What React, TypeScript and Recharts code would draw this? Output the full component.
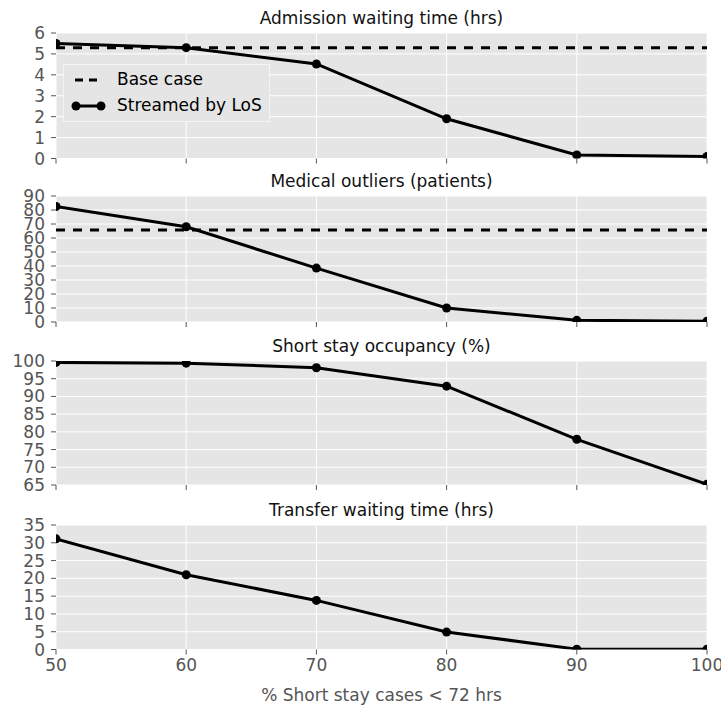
import { LineChart, Line, XAxis, YAxis, CartesianGrid, Legend } from 'recharts';

const xValues = [50, 60, 70, 80, 90, 100];
const xTicks = [50, 60, 70, 80, 90, 100];

const admissionStreamed = [5.5, 5.3, 4.52, 1.9, 0.17, 0.1];
const admissionBase = [5.3, 5.3, 5.3, 5.3, 5.3, 5.3];
const admissionTicks = [0, 1, 2, 3, 4, 5, 6];

const outliersStreamed = [82.5, 68, 38.5, 10, 1.2, 0.5];
const outliersBase = [65.8, 65.8, 65.8, 65.8, 65.8, 65.8];
const outliersTicks = [0, 10, 20, 30, 40, 50, 60, 70, 80, 90];

const occupancyStreamed = [99.6, 99.4, 98.1, 92.9, 77.9, 65.2];
const occupancyTicks = [65, 70, 75, 80, 85, 90, 95, 100];

const transferStreamed = [31.1, 21.0, 13.8, 4.9, 0.1, 0.1];
const transferTicks = [0, 5, 10, 15, 20, 25, 30, 35];

const FONT = '"DejaVu Sans", sans-serif';
const TICK = '#555555';
const TOP_PAD = 30;
const PLOT_LEFT = 56;
const PLOT_RIGHT = 707;
const FS = 17;

type PanelProps = {
  title: string;
  streamed: number[];
  base?: number[];
  yTicks: number[];
  plotTop: number;
  plotHeight: number;
  last?: boolean;
  legend?: boolean;
};

function LegendBox() {
  return (
    <div
      style={{
        width: 207,
        height: 58,
        background: '#e5e5e5',
        border: '1px solid #f4f4f4',
        fontFamily: FONT,
        fontSize: FS,
        color: '#000',
        boxSizing: 'border-box',
        position: 'relative',
      }}
    >
      <svg width={44} height={58} style={{ position: 'absolute', left: 0, top: 0 }}>
        <line x1={11} y1={15} x2={38} y2={15} stroke="#000" strokeWidth={3} strokeDasharray="8 6" />
        <line x1={12} y1={41} x2={37} y2={41} stroke="#000" strokeWidth={3} />
        <circle cx={12} cy={41} r={4.5} fill="#000" />
        <circle cx={37} cy={41} r={4.5} fill="#000" />
      </svg>
      <div style={{ position: 'absolute', left: 53, top: 4, lineHeight: '20px' }}>Base case</div>
      <div style={{ position: 'absolute', left: 53, top: 30, lineHeight: '20px' }}>Streamed by LoS</div>
    </div>
  );
}

function Panel({ title, streamed, base, yTicks, plotTop, plotHeight, last, legend }: PanelProps) {
  const data = xValues.map((x, i) => ({ x, streamed: streamed[i], base: base ? base[i] : undefined }));
  const bottom = last ? 57 : 14;
  const height = TOP_PAD + plotHeight + bottom;
  const domain = [yTicks[0], yTicks[yTicks.length - 1]];
  return (
    <div style={{ position: 'absolute', left: 0, top: plotTop - TOP_PAD, width: 721, height }}>
      <div
        style={{
          position: 'absolute',
          left: PLOT_LEFT,
          width: PLOT_RIGHT - PLOT_LEFT,
          top: TOP_PAD - 25,
          textAlign: 'center',
          fontFamily: FONT,
          fontSize: FS,
          lineHeight: '20px',
          color: '#111',
          zIndex: 2,
        }}
      >
        {title}
      </div>
      <LineChart width={721} height={height} data={data} margin={{ top: TOP_PAD, right: 721 - PLOT_RIGHT, bottom: 0, left: 0 }}>
        <CartesianGrid fill="#e5e5e5" fillOpacity={1} stroke="#ffffff" strokeWidth={1} />
        <XAxis
          dataKey="x"
          type="number"
          domain={[50, 100]}
          ticks={xTicks}
          allowDataOverflow
          interval={0}
          axisLine={false}
          tickLine={{ stroke: TICK }}
          tickSize={5}
          tickMargin={4}
          height={bottom}
          tick={{ fill: TICK, fontSize: FS, fontFamily: FONT }}
          tickFormatter={last ? undefined : () => ''}
          label={
            last
              ? { value: '% Short stay cases < 72 hrs', position: 'insideBottom', offset: 6, fill: TICK, fontSize: FS, fontFamily: FONT }
              : undefined
          }
        />
        <XAxis
          xAxisId="top"
          orientation="top"
          dataKey="x"
          type="number"
          domain={[50, 100]}
          ticks={xTicks}
          interval={0}
          axisLine={false}
          tickLine={{ stroke: TICK }}
          tickSize={5}
          height={0}
          tickFormatter={() => ''}
        />
        <YAxis
          type="number"
          domain={domain}
          ticks={yTicks}
          allowDataOverflow
          interval={0}
          axisLine={false}
          tickLine={{ stroke: TICK }}
          tickSize={5}
          tickMargin={6}
          width={PLOT_LEFT}
          tick={{ fill: TICK, fontSize: FS, fontFamily: FONT }}
        />
        <YAxis
          yAxisId="right"
          orientation="right"
          type="number"
          domain={domain}
          ticks={yTicks}
          interval={0}
          axisLine={false}
          tickLine={{ stroke: TICK }}
          tickSize={5}
          width={0}
          tickFormatter={() => ''}
        />
        {base && (
          <Line
            dataKey="base"
            stroke="#000"
            strokeWidth={3}
            strokeDasharray="9 8"
            dot={false}
            isAnimationActive={false}
          />
        )}
        <Line
          dataKey="streamed"
          stroke="#000"
          strokeWidth={3}
          dot={{ r: 4.5, fill: '#000', stroke: '#000', strokeWidth: 0 }}
          isAnimationActive={false}
        />
        {legend && (
          <Legend
            layout="vertical"
            align="center"
            verticalAlign="middle"
            wrapperStyle={{ left: 63, top: 61, width: 'auto', height: 'auto' }}
            content={() => <LegendBox />}
          />
        )}
      </LineChart>
    </div>
  );
}

export default function App() {
  return (
    <div style={{ position: 'absolute', left: 0, top: 0, width: 721, height: 706, background: '#fff', overflow: 'hidden' }}>
      <Panel title="Admission waiting time (hrs)" streamed={admissionStreamed} base={admissionBase} yTicks={admissionTicks} plotTop={33} plotHeight={125.5} legend />
      <Panel title="Medical outliers (patients)" streamed={outliersStreamed} base={outliersBase} yTicks={outliersTicks} plotTop={196} plotHeight={126} />
      <Panel title="Short stay occupancy (%)" streamed={occupancyStreamed} yTicks={occupancyTicks} plotTop={361} plotHeight={124} />
      <Panel title="Transfer waiting time (hrs)" streamed={transferStreamed} yTicks={transferTicks} plotTop={524.7} plotHeight={124.5} last />
    </div>
  );
}
